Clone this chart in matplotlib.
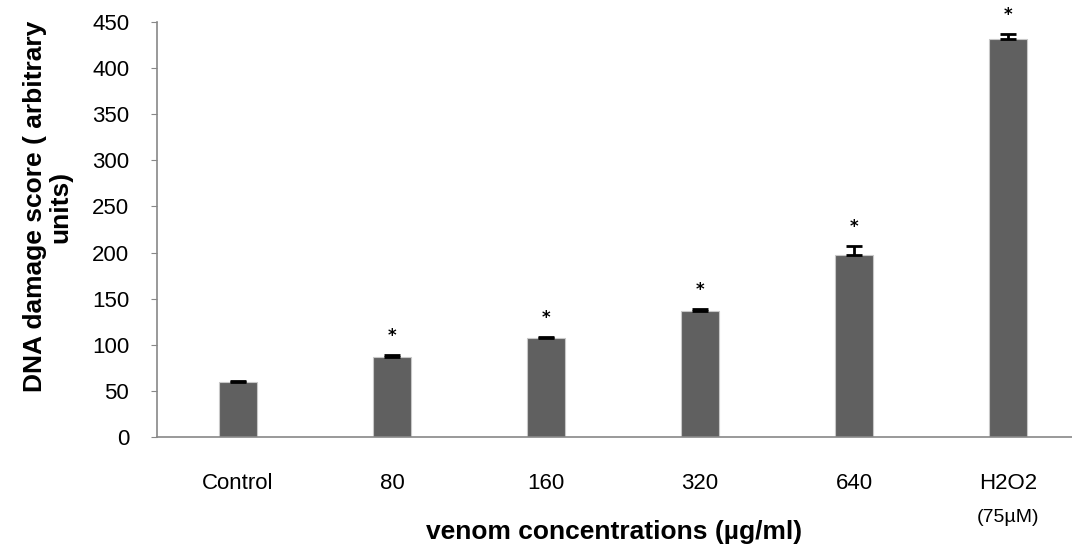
import numpy as np
import matplotlib.pyplot as plt

# Data
categories = ["Control", "80", "160", "320", "640", "H2O2"]
damage = [60, 87, 107, 137, 197, 432]
errors = [1, 1.5, 1.5, 1.5, 10, 5]
significant = [False, True, True, True, True, True]

fig = plt.figure(figsize=(10.72, 5.51), dpi=100)
ax = fig.add_axes([0.1465, 0.207, 0.8535, 0.753])

x = np.arange(len(categories))
ax.bar(x, damage, width=0.25, color="#606060", edgecolor="#c8c8c8", linewidth=0.8, zorder=2)
ax.errorbar(x, damage, yerr=[np.zeros(len(errors)), errors], fmt="none",
            ecolor="black", elinewidth=2, capsize=6, capthick=2, zorder=3)

# significance markers
for xi, v, e, s in zip(x, damage, errors, significant):
    if s:
        ax.text(xi, v + e + 11, "*", ha="center", va="bottom", fontsize=12, fontweight="bold")

ax.set_xlim(-0.526, 5.416)
ax.set_ylim(0, 450)
ax.set_yticks(range(0, 451, 50))
ax.set_xticks(x)
ax.set_xticklabels(categories, fontsize=16, family="Liberation Sans")
ax.text(5, -0.195, "(75µM)", transform=ax.get_xaxis_transform(), ha="center", va="center",
        fontsize=14, family="Liberation Sans")
ax.tick_params(axis="x", length=0, pad=26)
ax.tick_params(axis="y", length=4, pad=16, labelsize=16, color="#888888")
for lbl in ax.get_yticklabels():
    lbl.set_family("Liberation Sans")

for side in ["top", "right"]:
    ax.spines[side].set_visible(False)
for side in ["left", "bottom"]:
    ax.spines[side].set_color("#888888")
    ax.spines[side].set_linewidth(1.2)

ax.set_ylabel("DNA damage score ( arbitrary\nunits)", fontsize=19, fontweight="bold",
              family="Liberation Sans", linespacing=1.05)
ax.yaxis.set_label_coords(-0.093, 0.555)
ax.set_xlabel("venom concentrations (µg/ml)", fontsize=19, fontweight="bold",
              family="Liberation Sans", labelpad=19)

fig.savefig("out.png", dpi=100)
